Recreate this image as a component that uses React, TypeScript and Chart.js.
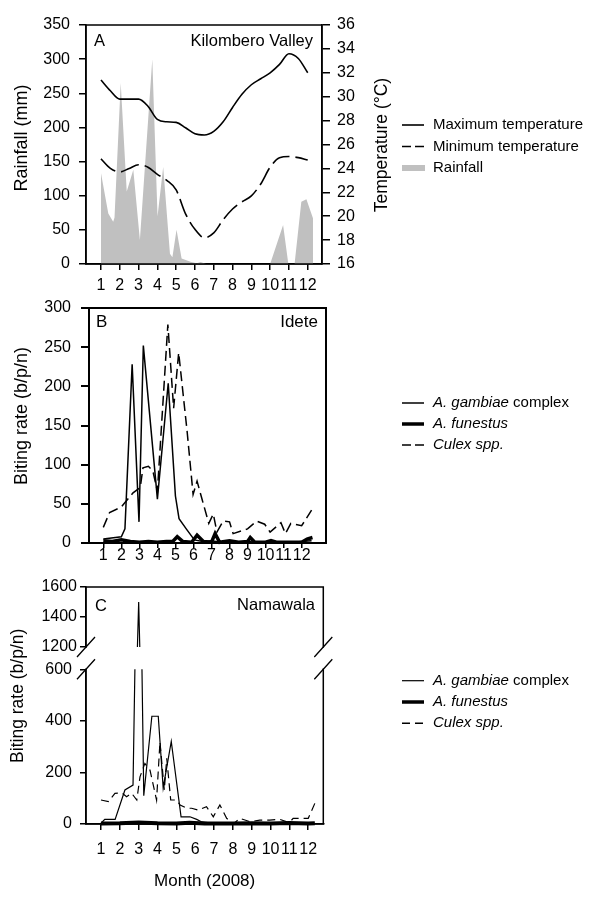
import React, { useEffect, useRef } from 'react';
import { Chart, registerables } from 'chart.js';

Chart.register(...registerables);

const FONT = "'Liberation Sans', Arial, Helvetica, sans-serif";
Chart.defaults.font.family = FONT;
Chart.defaults.color = '#000';

// ---------- shared ----------
const monthTicks = [1, 2, 3, 4, 5, 6, 7, 8, 9, 10, 11, 12];

// ---------- Panel A: Kilombero Valley ----------
const rainfallTicks = [0, 50, 100, 150, 200, 250, 300, 350];
const temperatureTicks = [16, 18, 20, 22, 24, 26, 28, 30, 32, 34, 36];
const tempMonth = [1, 1.5, 2, 2.5, 3, 3.5, 4, 4.5, 5, 5.5, 6, 6.5, 7, 7.5, 8, 8.5, 9, 9.5, 10, 10.5, 11, 11.5, 12];
const maxTemperature = [31.4, 30.5, 29.8, 29.8, 29.8, 29.2, 28.1, 27.9, 27.85, 27.4, 26.9, 26.8, 27.1, 27.9, 29.1, 30.2, 31.0, 31.5, 32.0, 32.7, 33.6, 33.2, 32.0];
const minTemperature = [24.8, 24.0, 23.7, 24.0, 24.3, 24.1, 23.5, 23.0, 22.2, 20.2, 18.9, 18.2, 18.6, 19.7, 20.6, 21.2, 21.7, 22.7, 24.1, 24.9, 25.0, 24.9, 24.7];
const rainMonth = [1.0, 1.39, 1.65, 1.72, 2.05, 2.37, 2.72, 3.07, 3.73, 4.01, 4.31, 4.67, 4.8, 5.02, 5.29, 5.8, 6.1, 6.3, 6.6, 10.0, 10.69, 10.97, 11.3, 11.66, 11.93, 12.28];
const rainfall = [133, 74, 62, 68, 265, 106, 138, 35, 300, 70, 142, 15, 10, 50, 8, 3, 1, 3, 0, 0, 57, 0, 0, 91, 95, 67];

// ---------- Panel B: Idete ----------
const bitingTicksB = [0, 50, 100, 150, 200, 250, 300];
const gambiaeMonthB = [1.0, 2.0, 2.2, 2.6, 2.98, 3.22, 4.0, 4.6, 5.0, 5.2, 5.6, 6.05, 6.5, 7.0, 7.5, 8.0, 8.5, 9.0, 9.5, 10.0, 10.5, 11.0, 11.5, 12.0, 12.55];
const gambiaeB = [5, 8, 18, 228, 27, 252, 56, 204, 60, 31, 18, 4, 2, 3, 1, 2, 1, 2, 1, 1, 1, 1, 1, 2, 3];
const funestusMonthB = [1.0, 1.5, 2.0, 2.5, 3.0, 3.5, 4.0, 4.5, 4.85, 5.1, 5.4, 5.9, 6.2, 6.55, 7.0, 7.2, 7.45, 8.0, 8.5, 9.0, 9.15, 9.4, 10.0, 10.3, 10.6, 11.0, 11.5, 12.0, 12.3, 12.6];
const funestusB = [3, 2, 4, 2, 1, 2, 1, 2, 2, 8, 2, 1, 10, 2, 1, 12, 1, 3, 1, 2, 7, 1, 1, 3, 1, 1, 1, 1, 5, 7];
const culexMonthB = [1.0, 1.35, 2.0, 2.65, 3.05, 3.2, 3.5, 3.75, 4.0, 4.58, 4.9, 5.18, 5.65, 5.98, 6.2, 6.45, 6.85, 7.1, 7.3, 7.65, 8.0, 8.2, 9.0, 9.5, 9.95, 10.25, 10.85, 11.1, 11.4, 12.0, 12.55];
const culexB = [20, 39, 46, 64, 71, 96, 98, 92, 66, 279, 172, 243, 142, 62, 79, 58, 25, 37, 14, 28, 27, 12, 18, 28, 24, 14, 26, 12, 25, 22, 42];

// ---------- Panel C: Namawala (broken axis) ----------
const bitingTicksCUpper = [1200, 1400, 1600];
const bitingTicksCLower = [0, 200, 400, 600];
const gambiaeMonthC = [1.0, 1.2, 1.75, 2.27, 2.7, 3.0, 3.27, 3.7, 4.04, 4.3, 4.73, 5.25, 5.72, 6.08, 6.35, 7.0, 8.0, 9.0, 10.0, 11.0, 12.0, 12.35];
const gambiaeC = [3, 18, 18, 132, 151, 1500, 110, 418, 418, 140, 320, 28, 28, 18, 8, 3, 2, 2, 2, 2, 2, 3];
const funestusMonthC = [1.0, 2.0, 3.0, 4.0, 5.0, 5.7, 6.5, 8.0, 9.0, 10.0, 11.0, 12.0, 12.35];
const funestusC = [2, 3, 6, 3, 2, 5, 2, 2, 3, 2, 4, 2, 3];
const culexMonthC = [1.0, 1.39, 1.74, 2.1, 2.36, 2.63, 2.9, 3.07, 3.33, 3.6, 3.95, 4.13, 4.36, 4.49, 4.7, 5.0, 5.2, 5.55, 5.81, 6.16, 6.6, 6.96, 7.31, 7.67, 8.02, 8.37, 8.9, 9.43, 9.96, 10.5, 11.0, 11.2, 11.74, 12.0, 12.35];
const culexC = [93, 87, 119, 121, 106, 119, 93, 183, 235, 209, 93, 319, 132, 255, 93, 93, 74, 61, 61, 54, 67, 28, 74, 22, 0, 22, 9, 15, 15, 18, 5, 22, 22, 22, 80];

// ---------- helpers ----------
const pts = (xs: number[], ys: number[]) => xs.map((x, i) => ({ x, y: ys[i] }));

type Part = { t: string; it?: boolean };
type TextItem = { parts: Part[]; x: number; y: number; size: number; align?: 'left' | 'right' | 'center'; rotate?: boolean };
type LegendItem = { kind: 'line' | 'dash' | 'box'; lw?: number; dash?: number[]; color?: string; parts: Part[] };
type DecorCfg = {
  frame?: { width: number; sides: string[] };
  breaks?: 'top' | 'bottom';
  texts?: TextItem[];
  legend?: { x: number; y: number; gap: number; size: number; items: LegendItem[] };
};

function drawParts(ctx: CanvasRenderingContext2D, parts: Part[], x: number, y: number, size: number, align: string) {
  const fontOf = (p: Part) => `${p.it ? 'italic ' : ''}${size}px ${FONT}`;
  let total = 0;
  for (const p of parts) {
    ctx.font = fontOf(p);
    total += ctx.measureText(p.t).width;
  }
  let cx = align === 'right' ? x - total : align === 'center' ? x - total / 2 : x;
  ctx.textAlign = 'left';
  ctx.textBaseline = 'middle';
  for (const p of parts) {
    ctx.font = fontOf(p);
    ctx.fillText(p.t, cx, y);
    cx += ctx.measureText(p.t).width;
  }
}

function makeDecor(cfg: DecorCfg) {
  return {
    id: 'decor',
    afterDraw(chart: any) {
      const ctx = chart.ctx as CanvasRenderingContext2D;
      const a = chart.chartArea;
      ctx.save();
      ctx.strokeStyle = '#000';
      ctx.fillStyle = '#000';
      ctx.setLineDash([]);
      if (cfg.frame) {
        ctx.lineWidth = cfg.frame.width;
        ctx.lineCap = 'square';
        ctx.beginPath();
        const s = cfg.frame.sides;
        if (s.includes('top')) { ctx.moveTo(a.left, a.top); ctx.lineTo(a.right, a.top); }
        if (s.includes('right')) { ctx.moveTo(a.right, a.top); ctx.lineTo(a.right, a.bottom); }
        if (s.includes('bottom')) { ctx.moveTo(a.left, a.bottom); ctx.lineTo(a.right, a.bottom); }
        if (s.includes('left')) { ctx.moveTo(a.left, a.top); ctx.lineTo(a.left, a.bottom); }
        ctx.stroke();
      }
      if (cfg.breaks) {
        const y = cfg.breaks === 'top' ? a.top : a.bottom;
        ctx.lineWidth = 1.3;
        ctx.lineCap = 'butt';
        ctx.beginPath();
        for (const x of [a.left, a.right]) {
          ctx.moveTo(x - 9, y + 10);
          ctx.lineTo(x + 9, y - 10);
        }
        ctx.stroke();
      }
      for (const t of cfg.texts || []) {
        if (t.rotate) {
          ctx.save();
          ctx.translate(t.x, t.y);
          ctx.rotate(-Math.PI / 2);
          drawParts(ctx, t.parts, 0, 0, t.size, 'center');
          ctx.restore();
        } else {
          drawParts(ctx, t.parts, t.x, t.y, t.size, t.align || 'left');
        }
      }
      const L = cfg.legend;
      if (L) {
        L.items.forEach((it, i) => {
          const y = L.y + i * L.gap;
          if (it.kind === 'box') {
            ctx.fillStyle = it.color || '#c0c0c0';
            ctx.fillRect(L.x, y - 3, 23, 6);
            ctx.fillStyle = '#000';
          } else {
            ctx.lineWidth = it.lw || 1.5;
            ctx.lineCap = 'butt';
            ctx.setLineDash(it.kind === 'dash' ? (it.dash || [9, 4]) : []);
            ctx.beginPath();
            ctx.moveTo(L.x, y);
            ctx.lineTo(L.x + 22, y);
            ctx.stroke();
            ctx.setLineDash([]);
          }
          drawParts(ctx, it.parts, L.x + 31, y, L.size, 'left');
        });
      }
      ctx.restore();
    },
  };
}

function yAxis(o: { min: number; max: number; ticks: number[]; position?: string; width: number; tickLength: number; padding: number; lw: number }) {
  return {
    type: 'linear',
    position: o.position || 'left',
    min: o.min,
    max: o.max,
    afterBuildTicks: (s: any) => { s.ticks = o.ticks.map((v) => ({ value: v })); },
    afterFit: (s: any) => { s.width = o.width; },
    ticks: { color: '#000', font: { family: FONT, size: 16, lineHeight: 1 }, padding: o.padding, autoSkip: false, callback: (v: any) => String(v) },
    grid: { drawOnChartArea: false, drawTicks: true, tickLength: o.tickLength, color: '#000', lineWidth: o.lw },
    border: { display: true, color: '#000', width: o.lw },
  };
}

function xAxis(o: { min: number; max: number; height: number; tickLength: number; padding: number; lw: number; display?: boolean; title?: any }) {
  return {
    type: 'linear',
    position: 'bottom',
    display: o.display === undefined ? true : o.display,
    min: o.min,
    max: o.max,
    afterBuildTicks: (s: any) => { s.ticks = monthTicks.map((v) => ({ value: v })); },
    afterFit: (s: any) => { s.height = o.height; },
    ticks: { color: '#000', font: { family: FONT, size: 16, lineHeight: 1 }, padding: o.padding, autoSkip: false, maxRotation: 0, minRotation: 0, callback: (v: any) => String(v) },
    grid: { drawOnChartArea: false, drawTicks: true, tickLength: o.tickLength, color: '#000', lineWidth: o.lw },
    border: { display: true, color: '#000', width: o.lw },
    title: o.title || { display: false },
  };
}

const baseOptions = (padding: any, scales: any) => ({
  responsive: false,
  animation: false,
  devicePixelRatio: 1,
  events: [],
  layout: { padding },
  plugins: { legend: { display: false }, tooltip: { enabled: false } },
  scales,
});

const lineDs = (label: string, data: any, lw: number, dash: number[] = [], extra: any = {}) => ({
  label,
  data,
  borderColor: '#000',
  backgroundColor: '#000',
  borderWidth: lw,
  borderDash: dash,
  pointRadius: 0,
  fill: false,
  tension: 0,
  ...extra,
});

const speciesLegend = (lwThin: number, dash: number[]): LegendItem[] => [
  { kind: 'line', lw: lwThin, parts: [{ t: 'A. gambiae', it: true }, { t: ' complex' }] },
  { kind: 'line', lw: 3.5, parts: [{ t: 'A. funestus', it: true }] },
  { kind: 'dash', lw: 1.5, dash, parts: [{ t: 'Culex spp.', it: true }] },
];

// ---------- chart configs ----------
function panelA(): any {
  return {
    type: 'line',
    data: {
      datasets: [
        lineDs('Maximum temperature', pts(tempMonth, maxTemperature), 1.6, [], { yAxisID: 'yT', cubicInterpolationMode: 'monotone', order: 1 }),
        lineDs('Minimum temperature', pts(tempMonth, minTemperature), 1.6, [19, 6], { yAxisID: 'yT', cubicInterpolationMode: 'monotone', order: 1 }),
        {
          label: 'Rainfall',
          data: pts(rainMonth, rainfall),
          yAxisID: 'yR',
          borderColor: '#c0c0c0',
          backgroundColor: '#c0c0c0',
          borderWidth: 0,
          pointRadius: 0,
          tension: 0,
          fill: 'origin',
          order: 2,
        },
      ],
    },
    options: baseOptions({ top: 25, left: 0, right: 200, bottom: 0 }, {
      x: xAxis({ min: 0.203, max: 12.76, height: 36, tickLength: 6, padding: 8, lw: 1.5 }),
      yR: yAxis({ min: 0, max: 350, ticks: rainfallTicks, width: 86, tickLength: 7, padding: 9, lw: 1.5 }),
      yT: yAxis({ min: 16, max: 36, ticks: temperatureTicks, position: 'right', width: 78, tickLength: 8, padding: 7, lw: 1.5 }),
    }),
    plugins: [makeDecor({
      frame: { width: 1.5, sides: ['top', 'right', 'bottom', 'left'] },
      texts: [
        { parts: [{ t: 'A' }], x: 94, y: 41, size: 16.5 },
        { parts: [{ t: 'Kilombero Valley' }], x: 313, y: 41, size: 16.5, align: 'right' },
        { parts: [{ t: 'Rainfall (mm)' }], x: 22.5, y: 138, size: 18, rotate: true },
        { parts: [{ t: 'Temperature (°C)' }], x: 381.7, y: 145, size: 17.5, rotate: true },
      ],
      legend: {
        x: 402, y: 125, gap: 21.5, size: 15,
        items: [
          { kind: 'line', lw: 1.6, parts: [{ t: 'Maximum temperature' }] },
          { kind: 'dash', lw: 1.6, dash: [9, 4], parts: [{ t: 'Minimum temperature' }] },
          { kind: 'box', color: '#c0c0c0', parts: [{ t: 'Rainfall' }] },
        ],
      },
    })],
  };
}

function panelB(): any {
  const clip = { left: 0, top: 0, right: 0, bottom: 5 };
  return {
    type: 'line',
    data: {
      datasets: [
        lineDs('A. gambiae complex', pts(gambiaeMonthB, gambiaeB), 1.5, [], { clip }),
        lineDs('A. funestus', pts(funestusMonthB, funestusB), 3.5, [], { clip }),
        lineDs('Culex spp.', pts(culexMonthB, culexB), 1.5, [10, 5], { clip }),
      ],
    },
    options: baseOptions({ top: 15, left: 0, right: 274, bottom: 0 }, {
      x: xAxis({ min: 0.207, max: 13.35, height: 27, tickLength: 5, padding: 0, lw: 1.5 }),
      y: yAxis({ min: 0, max: 300, ticks: bitingTicksB, width: 89, tickLength: 8, padding: 10, lw: 2 }),
    }),
    plugins: [makeDecor({
      frame: { width: 2, sides: ['top', 'right', 'bottom', 'left'] },
      texts: [
        { parts: [{ t: 'B' }], x: 96, y: 32.5, size: 17 },
        { parts: [{ t: 'Idete' }], x: 318, y: 32, size: 17, align: 'right' },
        { parts: [{ t: 'Biting rate (b/p/n)' }], x: 21.7, y: 126, size: 18, rotate: true },
      ],
      legend: { x: 402, y: 113, gap: 21, size: 15, items: speciesLegend(1.5, [9, 4]) },
    })],
  };
}

function panelCLower(): any {
  const clip = { left: 0, top: 0, right: 0, bottom: 5 };
  return {
    type: 'line',
    data: {
      datasets: [
        lineDs('A. gambiae complex', pts(gambiaeMonthC, gambiaeC), 1.2, [], { clip }),
        lineDs('A. funestus', pts(funestusMonthC, funestusC), 4, [], { clip }),
        lineDs('Culex spp.', pts(culexMonthC, culexC), 1.2, [8, 5], { clip }),
      ],
    },
    options: baseOptions({ top: 99.3, left: 0, right: 276.7, bottom: 0 }, {
      x: xAxis({
        min: 0.204, max: 12.8, height: 80, tickLength: 6, padding: 12, lw: 1.5,
        title: { display: true, text: 'Month (2008)', color: '#000', font: { family: FONT, size: 17, lineHeight: 1.2 }, padding: { top: 0, bottom: 12 } },
      }),
      y: yAxis({ min: 0, max: 600, ticks: bitingTicksCLower, width: 86, tickLength: 6, padding: 8, lw: 1.5 }),
    }),
    plugins: [makeDecor({
      frame: { width: 1.5, sides: ['right', 'bottom', 'left'] },
      breaks: 'top',
      texts: [
        { parts: [{ t: 'Biting rate (b/p/n)' }], x: 18, y: 125.8, size: 17.5, rotate: true },
      ],
      legend: { x: 402, y: 110.7, gap: 21.3, size: 15, items: speciesLegend(1.2, [8, 5]) },
    })],
  };
}

function panelCUpper(): any {
  const clip = { left: 0, top: 0, right: 0, bottom: 0 };
  return {
    type: 'line',
    data: {
      datasets: [
        lineDs('A. gambiae complex', pts(gambiaeMonthC, gambiaeC), 1.2, [], { clip }),
        lineDs('A. funestus', pts(funestusMonthC, funestusC), 4, [], { clip }),
        lineDs('Culex spp.', pts(culexMonthC, culexC), 1.2, [8, 5], { clip }),
      ],
    },
    options: baseOptions({ top: 17, left: 0, right: 276.7, bottom: 9.7 }, {
      x: xAxis({ min: 0.204, max: 12.8, height: 0, tickLength: 6, padding: 12, lw: 1.5, display: false }),
      y: yAxis({ min: 1200, max: 1600, ticks: bitingTicksCUpper, width: 86, tickLength: 6, padding: 3, lw: 1.5 }),
    }),
    plugins: [makeDecor({
      frame: { width: 1.5, sides: ['top', 'right', 'left'] },
      breaks: 'bottom',
      texts: [
        { parts: [{ t: 'C' }], x: 95, y: 36, size: 16.5 },
        { parts: [{ t: 'Namawala' }], x: 315, y: 35, size: 16.5, align: 'right' },
      ],
    })],
  };
}

function ChartCanvas({ make, top, height }: { make: () => any; top: number; height: number }) {
  const ref = useRef<HTMLCanvasElement>(null);
  useEffect(() => {
    const chart = new Chart(ref.current as HTMLCanvasElement, make());
    return () => chart.destroy();
  }, []);
  return (
    <canvas
      ref={ref}
      width={600}
      height={height}
      style={{ position: 'absolute', left: 0, top, width: 600, height }}
    />
  );
}

export default function App() {
  return (
    <div style={{ position: 'absolute', left: 0, top: 0, width: 600, height: 904, background: '#fff', overflow: 'hidden' }}>
      <ChartCanvas make={panelA} top={0} height={300} />
      <ChartCanvas make={panelB} top={290} height={280} />
      <ChartCanvas make={panelCLower} top={570} height={334} />
      <ChartCanvas make={panelCUpper} top={570} height={88} />
    </div>
  );
}
